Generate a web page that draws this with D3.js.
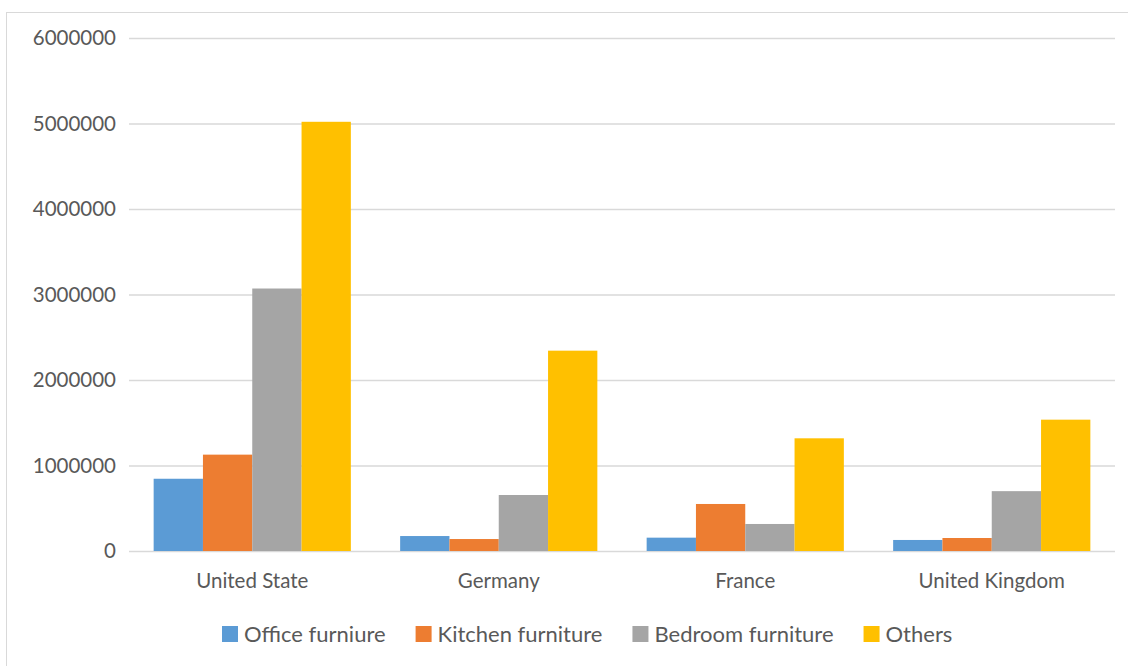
<!DOCTYPE html>
<html>
<head>
<meta charset="utf-8">
<script src="https://cdn.jsdelivr.net/npm/d3@7"></script>
<style>
  html, body { margin: 0; padding: 0; background: #fff; }
  svg { display: block; font-family: Lato, "Open Sans", sans-serif; }
</style>
</head>
<body>
<svg id="chart" width="1128" height="666"></svg>
<script>
// Furniture sales by country and product group
const countries = ["United State", "Germany", "France", "United Kingdom"];
const seriesNames = ["Office furniure", "Kitchen furniture", "Bedroom furniture", "Others"];
const officeFurniture  = [845000, 175000, 156000, 129000];
const kitchenFurniture = [1127000, 140000, 550000, 152000];
const bedroomFurniture = [3070000, 655000, 316000, 700000];
const others           = [5020000, 2343000, 1318000, 1536000];
const yTicks = [0, 1000000, 2000000, 3000000, 4000000, 5000000, 6000000];
const colors = ["#5B9BD5", "#ED7D31", "#A5A5A5", "#FFC000"];

const seriesValues = [officeFurniture, kitchenFurniture, bedroomFurniture, others];
const rows = countries.map((c, i) => ({
  country: c,
  values: seriesNames.map((s, j) => ({ series: s, value: seriesValues[j][i] }))
}));

const svg = d3.select("#chart");
const textColor = "#595959";
const fontStack = "Lato, 'Open Sans', sans-serif";

// chart area frame
svg.append("rect")
  .attr("x", 6.5).attr("y", 12.5)
  .attr("width", 1140).attr("height", 680)
  .attr("fill", "none").attr("stroke", "#D9D9D9").attr("stroke-width", 1);

const plot = { left: 129, right: 1115, top: 38, bottom: 551 };

const y = d3.scaleLinear().domain([0, 6000000]).range([plot.bottom, plot.top]);
const x0 = d3.scaleBand().domain(countries).range([plot.left, plot.right])
  .paddingInner(0.2).paddingOuter(0.1);
const x1 = d3.scaleBand().domain(seriesNames).range([0, x0.bandwidth()]);

// value axis with horizontal gridlines
const yAxis = d3.axisLeft(y).tickValues(yTicks).tickFormat(d3.format("d"))
  .tickSize(-(plot.right - plot.left)).tickPadding(13);
const gy = svg.append("g").attr("transform", `translate(${plot.left},0)`).call(yAxis);
gy.select(".domain").remove();
gy.selectAll(".tick line").attr("stroke", "#D9D9D9").attr("stroke-width", 1.5);
gy.selectAll(".tick text").attr("fill", textColor).style("font-size", "20.5px")
  .style("font-family", fontStack);

// clustered bars
const groups = svg.append("g").selectAll("g").data(rows).join("g")
  .attr("transform", d => `translate(${x0(d.country)},0)`);
groups.selectAll("rect").data(d => d.values).join("rect")
  .attr("x", d => x1(d.series))
  .attr("width", x1.bandwidth())
  .attr("y", d => y(d.value))
  .attr("height", d => y(0) - y(d.value))
  .attr("fill", (d, i) => colors[i]);

// category axis
const xAxis = d3.axisBottom(x0).tickSize(0).tickPadding(22);
const gx = svg.append("g").attr("transform", `translate(0,${plot.bottom})`).call(xAxis);
gx.select(".domain").remove();
gx.selectAll(".tick text").attr("fill", textColor).style("font-size", "20.5px")
  .style("font-family", fontStack);

// legend
const legend = svg.append("g").attr("transform", "translate(222,634)");
let lx = 0;
seriesNames.forEach((name, i) => {
  const item = legend.append("g").attr("transform", `translate(${lx},0)`);
  item.append("rect").attr("x", 0).attr("y", -8).attr("width", 16).attr("height", 16)
    .attr("fill", colors[i]);
  const t = item.append("text").attr("x", 22).attr("y", 0).attr("dy", "0.35em")
    .attr("fill", textColor).style("font-size", "22px").text(name);
  lx += 22 + t.node().getComputedTextLength() + 30;
});
</script>
</body>
</html>
